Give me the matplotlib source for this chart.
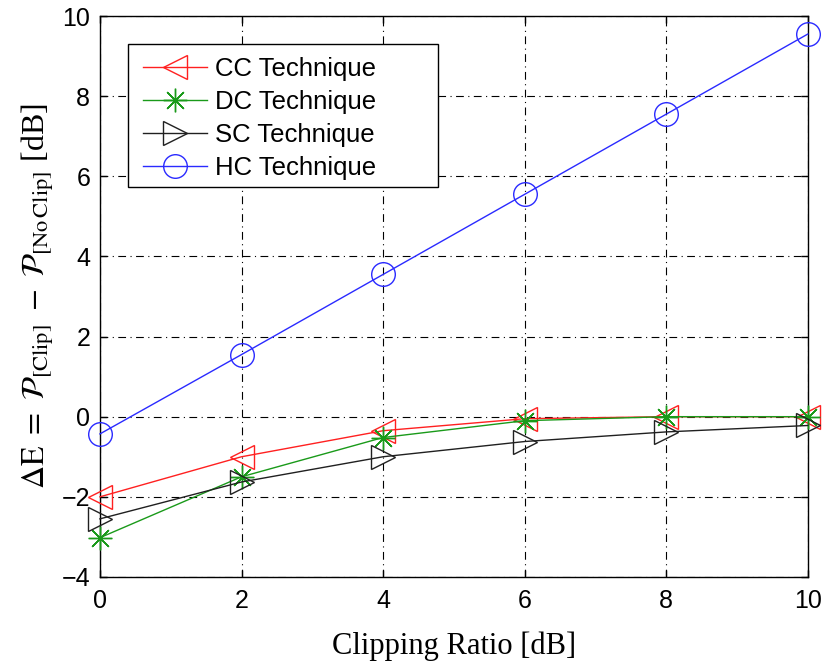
import matplotlib
matplotlib.use("Agg")
import matplotlib.pyplot as plt
from matplotlib.patches import Rectangle

clipping_ratio = [0, 2, 4, 6, 8, 10]
cc_values = [-2.0, -1.0, -0.35, -0.05, 0.0, 0.0]
dc_values = [-3.02, -1.5, -0.52, -0.1, 0.0, 0.0]
sc_values = [-2.55, -1.63, -1.0, -0.62, -0.38, -0.22]
hc_values = [-0.43, 1.55, 3.55, 5.55, 7.55, 9.55]

labels = ["CC Technique", "DC Technique", "SC Technique", "HC Technique"]
x_ticks = [0, 2, 4, 6, 8, 10]
y_ticks = [-4, -2, 0, 2, 4, 6, 8, 10]

plt.rcParams["font.family"] = ["Liberation Sans", "DejaVu Sans"]
plt.rcParams["mathtext.fontset"] = "stix"

fig = plt.figure(figsize=(8.26, 6.67), dpi=100)
ax = fig.add_axes([0.121, 0.135, 0.857, 0.841])

styles = [
    (cc_values, "#ff2020", "<"),
    (dc_values, "#1a9a1a", (8, 2, 0)),
    (sc_values, "#202020", ">"),
    (hc_values, "#2a2aff", "o"),
]
for (vals, color, marker), lab in zip(styles, labels):
    ax.plot(clipping_ratio, vals, color=color, marker=marker, markersize=17,
            markerfacecolor="none", markeredgecolor=color, markeredgewidth=1.0,
            linewidth=1.0, label=lab, clip_on=False, zorder=3)

ax.set_xlim(0, 10)
ax.set_ylim(-4, 10)
ax.set_xticks(x_ticks)
ax.set_yticks(y_ticks)
ax.tick_params(direction="in", labelsize=18, length=5, width=1,
               top=True, right=True)
ax.tick_params(axis="x", pad=9)
ax.tick_params(axis="y", pad=7)
ax.grid(True, color="black", linestyle=(0, (7, 4, 1, 4)), linewidth=0.8)
for s in ax.spines.values():
    s.set_linewidth(1.0)

ax.set_xlabel("Clipping Ratio [dB]", family="Liberation Serif", fontsize=22,
              labelpad=13)
ax.set_ylabel(r"$\Delta\mathrm{E}\ =\ \mathcal{P}_{[\mathrm{Clip}]}\ -\ "
              r"\mathcal{P}_{[\mathrm{No\,Clip}]}$ [dB]",
              family="Liberation Serif", fontsize=23, labelpad=4)

# legend box drawn separately so it can be wider than its entries
box = Rectangle((0.0395, 0.695), 0.438, 0.255, transform=ax.transAxes,
                facecolor="white", edgecolor="black", linewidth=1.0, zorder=4)
ax.add_patch(box)
leg = ax.legend(loc="upper left", bbox_to_anchor=(0.0607, 0.927),
                fontsize=18.5, frameon=False, handlelength=2.5,
                borderpad=0, labelspacing=0.35, handletextpad=0.3,
                borderaxespad=0)
leg.set_zorder(5)

fig.savefig("out.png", dpi=100)
